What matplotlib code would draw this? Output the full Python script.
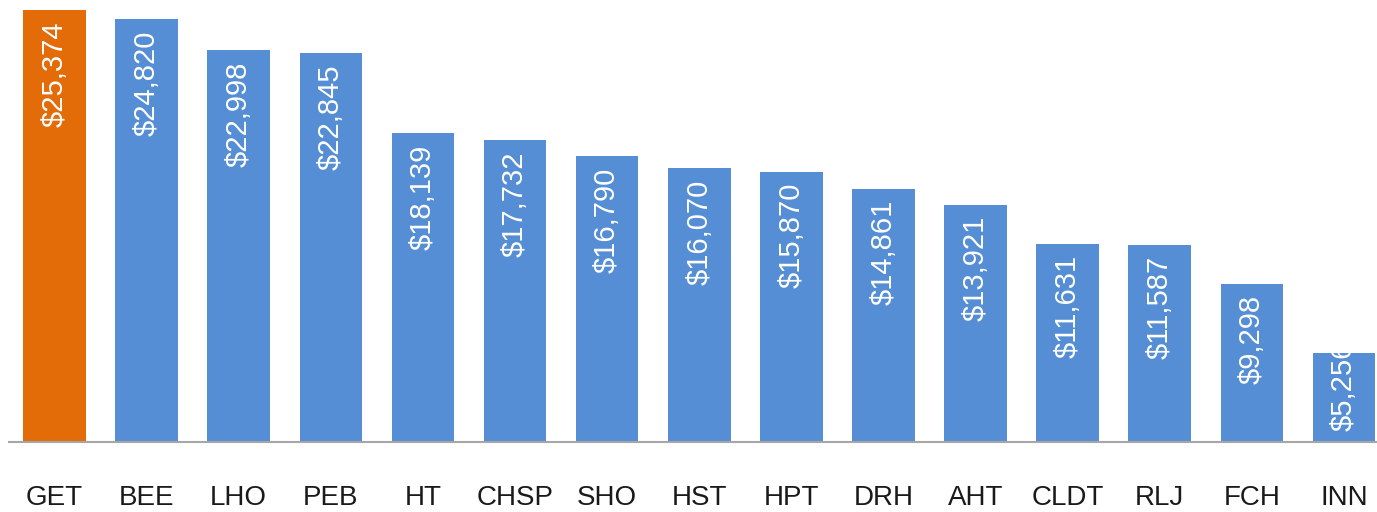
import matplotlib.pyplot as plt

tickers = ["GET", "BEE", "LHO", "PEB", "HT", "CHSP", "SHO", "HST", "HPT",
           "DRH", "AHT", "CLDT", "RLJ", "FCH", "INN"]
values = [25374, 24820, 22998, 22845, 18139, 17732, 16790, 16070, 15870,
          14861, 13921, 11631, 11587, 9298, 5256]
labels = ["$25,374", "$24,820", "$22,998", "$22,845", "$18,139", "$17,732",
          "$16,790", "$16,070", "$15,870", "$14,861", "$13,921", "$11,631",
          "$11,587", "$9,298", "$5,256"]

ORANGE = "#E36C09"
BLUE = "#558ED5"
FONT = ["Liberation Sans", "DejaVu Sans"]


def main():
    plt.rcParams["font.family"] = FONT
    fig = plt.figure(figsize=(13.77, 5.12), dpi=100)
    # axes placed by hand so the bars line up with the reference
    ax = fig.add_axes([8.5 / 1377, 70 / 512, 1381.5 / 1377, 442 / 512])

    colors = [ORANGE] + [BLUE] * (len(values) - 1)
    x = list(range(len(values)))
    ax.bar(x, values, width=0.68, color=colors)

    for xi, v, lab in zip(x, values, labels):
        if v < 7000:
            # too short for the label at the top, so it sits on the base
            ax.annotate(lab, (xi, 0), xytext=(0, 8), textcoords="offset points",
                        rotation=90, ha="center", va="bottom", color="white",
                        fontsize=21)
        else:
            ax.annotate(lab, (xi, v), xytext=(0, -8), textcoords="offset points",
                        rotation=90, ha="center", va="top", color="white",
                        fontsize=21)

    ax.set_xlim(-0.5, 14.5)
    ax.set_ylim(0, 25374 * 442 / 432)
    ax.set_xticks(x)
    ax.set_xticklabels(tickers, fontsize=20, color="#1a1a1a")
    ax.tick_params(axis="x", length=0, pad=31)
    ax.set_yticks([])
    for side in ["top", "right", "left"]:
        ax.spines[side].set_visible(False)
    ax.spines["bottom"].set_color("#A6A6A6")
    ax.spines["bottom"].set_linewidth(1.5)

    fig.savefig("out.png", dpi=100)


if __name__ == '__main__':
    main()
